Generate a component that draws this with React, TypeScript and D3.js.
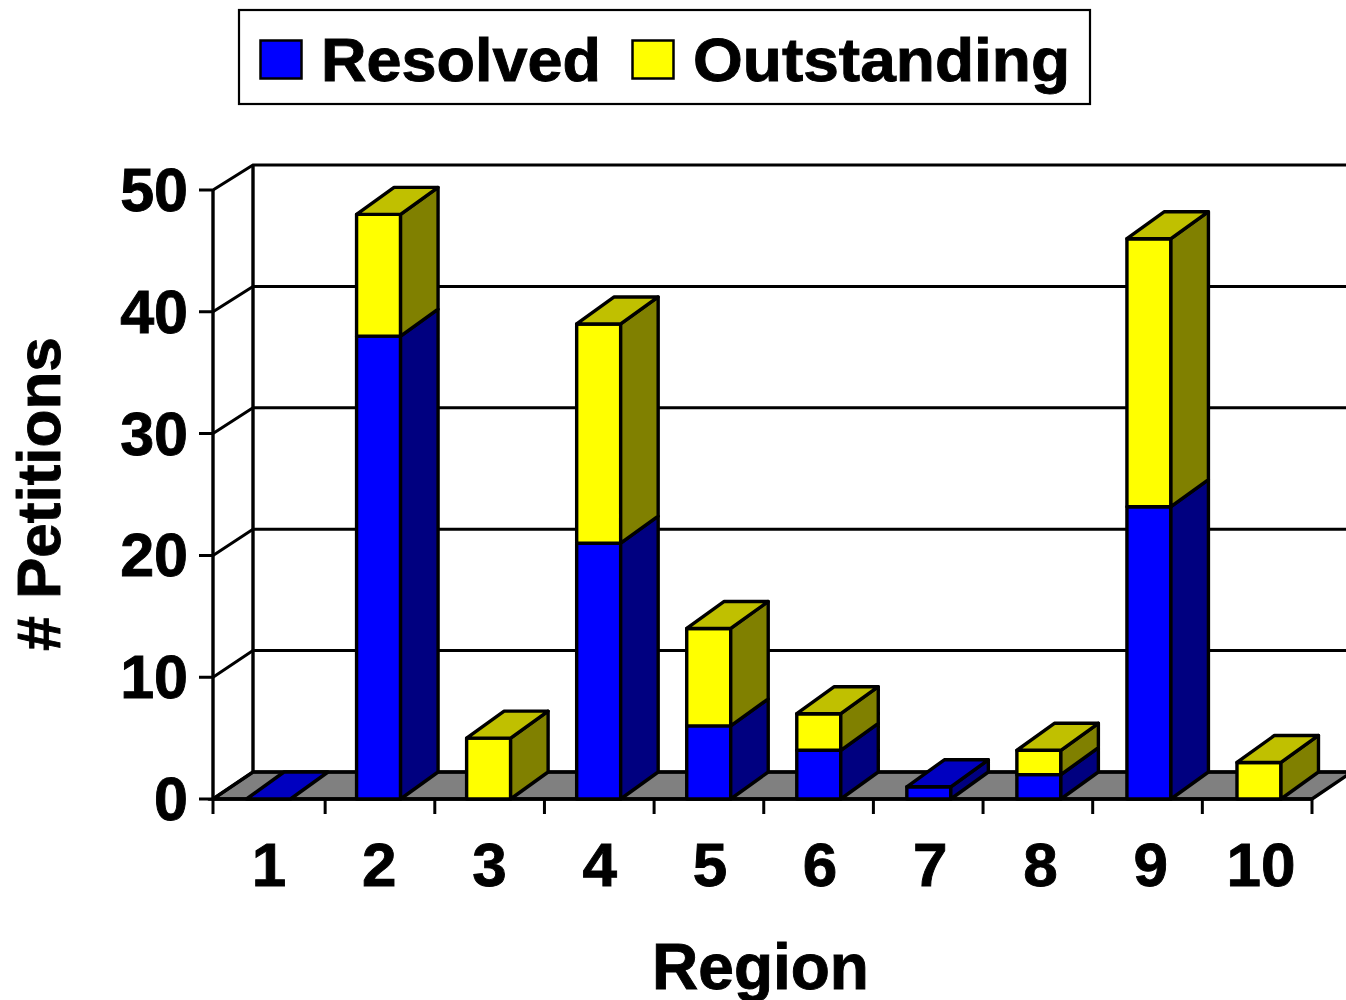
import React from "react";
import * as d3 from "d3";

const regions = ["1", "2", "3", "4", "5", "6", "7", "8", "9", "10"];
const resolved = [0, 38, 0, 21, 6, 4, 1, 2, 24, 0];
const outstanding = [0, 10, 5, 18, 8, 3, 0, 2, 22, 3];
const yTicks = [0, 10, 20, 30, 40, 50];

const FONT = "'Liberation Sans', Arial, sans-serif";
const palette = [
  { front: "#0000ff", top: "#0000c0", side: "#000080" },
  { front: "#ffff00", top: "#c0c000", side: "#808000" },
];

export default function App() {
  const x = d3.scaleBand<string>().domain(regions).range([215.5, 1312]).paddingInner(0);
  const xBar = d3.scaleBand<string>().domain(regions).range([213.5, 1314]).paddingInner(0);
  const xLabel = d3.scaleBand<string>().domain(regions).range([214, 1316]).paddingInner(0);
  const y = d3.scaleLinear().domain([0, 50]).range([799, 190]);
  const yBack = d3.scaleLinear().domain([0, 50]).range([772, 165]);
  const wallDx = 40;
  const barDx = 37.5;
  const barDy = -27;
  const barW = 44;
  const sw = 3.4;
  const textStroke = { stroke: "#000", strokeWidth: 0.9 };
  const poly = (p: number[][]) => p.map((a) => a.join(",")).join(" ");
  const y0 = y(0);

  return (
    <svg width={1346} height={1000} style={{ position: "absolute", left: 0, top: 0 }} fontFamily={FONT}>
      <rect x={239} y={10} width={851} height={94} fill="#fff" stroke="#000" strokeWidth={2.2} />
      <rect x={260.5} y={40.5} width={41} height={38} fill="#0000ff" stroke="#000" strokeWidth={2.5} />
      <text x={321} y={81} fontSize={61} fontWeight={700} textLength={280} lengthAdjust="spacingAndGlyphs" {...textStroke}>Resolved</text>
      <rect x={632.5} y={40.5} width={41} height={38} fill="#ffff00" stroke="#000" strokeWidth={2.5} />
      <text x={693} y={81} fontSize={61} fontWeight={700} textLength={377} lengthAdjust="spacingAndGlyphs" {...textStroke}>Outstanding</text>

      <polygon
        points={poly([[213, y0], [213 + wallDx, yBack(0)], [1352, yBack(0)], [1312, y0]])}
        fill="#808080" stroke="#000" strokeWidth={sw}
      />
      {yTicks.map((t) => {
        const yy = y(t);
        return (
          <g key={t}>
            <polyline points={poly([[199, yy], [213, yy], [213 + wallDx, yBack(t)], [1346, yBack(t)]])} fill="none" stroke="#000" strokeWidth={sw - 0.4} />
            <text x={188} y={yy + 21} textAnchor="end" fontSize={61} fontWeight={700} {...textStroke}>{t}</text>
          </g>
        );
      })}
      <line x1={213} y1={y(0)} x2={213} y2={y(50)} stroke="#000" strokeWidth={sw} />
      <line x1={253} y1={yBack(0)} x2={253} y2={yBack(50)} stroke="#000" strokeWidth={sw} />
      <line x1={213} y1={y0} x2={1312} y2={y0} stroke="#000" strokeWidth={sw} />
      {[213, ...regions.slice(1).map((r) => x(r)!), 1312].map((tx) => (
        <line key={tx} x1={tx} y1={y0} x2={tx} y2={y0 + 15} stroke="#000" strokeWidth={sw - 0.4} />
      ))}

      {regions.map((r, i) => {
        const left = xBar(r)! + (xBar.bandwidth() - barW) / 2;
        const right = left + barW;
        const segs = [
          { a: 0, b: resolved[i], c: palette[0] },
          { a: resolved[i], b: resolved[i] + outstanding[i], c: palette[1] },
        ];
        const total = resolved[i] + outstanding[i];
        const topC = outstanding[i] > 0 ? palette[1] : palette[0];
        const yt = y(total);
        return (
          <g key={r} stroke="#000" strokeWidth={sw} strokeLinejoin="round">
            {segs.filter((s) => s.b > s.a).map((s, k) => {
              const ya = y(s.a);
              const yb = y(s.b);
              return (
                <g key={k}>
                  <rect x={left} y={yb} width={barW} height={ya - yb} fill={s.c.front} />
                  <polygon points={poly([[right, ya], [right + barDx, ya + barDy], [right + barDx, yb + barDy], [right, yb]])} fill={s.c.side} />
                </g>
              );
            })}
            <polygon points={poly([[left, yt], [left + barDx, yt + barDy], [right + barDx, yt + barDy], [right, yt]])} fill={topC.top} />
          </g>
        );
      })}

      {regions.map((r) => (
        <text key={r} x={xLabel(r)! + xLabel.bandwidth() / 2} y={886} textAnchor="middle" fontSize={62} fontWeight={700} {...textStroke}>{r}</text>
      ))}
      <text x={760.5} y={989} textAnchor="middle" fontSize={64} fontWeight={700} {...textStroke}>Region</text>
      <text transform="translate(60,494) rotate(-90)" textAnchor="middle" fontSize={62} fontWeight={700} {...textStroke}># Petitions</text>
    </svg>
  );
}
